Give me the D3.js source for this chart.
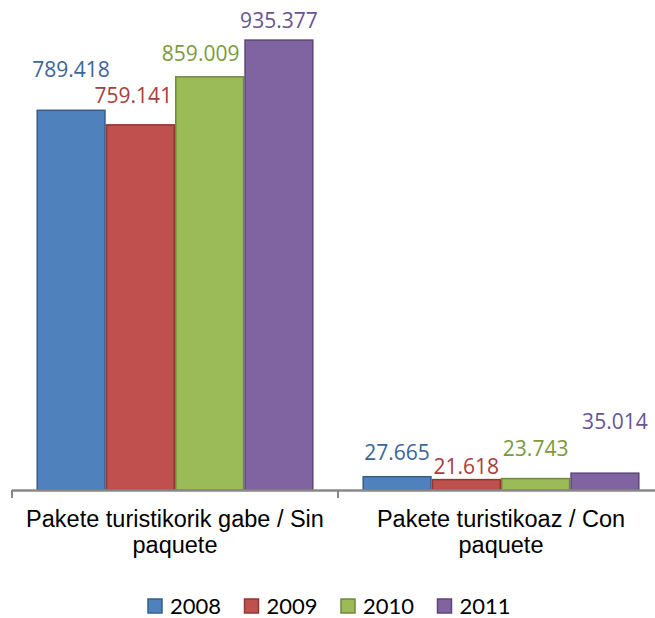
<!DOCTYPE html>
<html>
<head>
<meta charset="utf-8">
<script src="https://cdn.jsdelivr.net/npm/d3@7"></script>
<style>
  body { margin: 0; background: #fff; }
</style>
</head>
<body>
<div id="chart"></div>
<script>
// data
var categories = ["Pakete turistikorik gabe / Sin paquete", "Pakete turistikoaz / Con paquete"];
var years = ["2008", "2009", "2010", "2011"];
var values2008 = [789.418, 27.665];
var values2009 = [759.141, 21.618];
var values2010 = [859.009, 23.743];
var values2011 = [935.377, 35.014];
var labels2008 = ["789.418", "27.665"];
var labels2009 = ["759.141", "21.618"];
var labels2010 = ["859.009", "23.743"];
var labels2011 = ["935.377", "35.014"];

// look
var fills = ["#4F81BD", "#C0504D", "#9BBB59", "#8064A2"];
var strokes = ["#385D8A", "#8C3836", "#71893F", "#5C4776"];
var textCols = ["#3C6698", "#A5403D", "#7A9A3C", "#6B5390"];
// label nudges [dx, lift] per group, per year (Excel placed them by hand)
var labelNudge = [
  [[0, 33], [-7, 22], [-9, 16], [0, 12]],
  [[0, 17], [0, 6], [0, 23], [10, 44]]
];

var W = 655, H = 618;
var series = [values2008, values2009, values2010, values2011];
var seriesLabels = [labels2008, labels2009, labels2010, labels2011];

var svg = d3.select("#chart").append("svg")
    .attr("width", W).attr("height", H);

var x0 = d3.scaleBand().domain(categories).range([12, 664])
    .paddingInner(0.15).paddingOuter(0.075);
var x1 = d3.scaleBand().domain(years).range([0, x0.bandwidth()]);
var y = d3.scaleLinear().domain([0, 1000]).range([490, 9]);

// rows: one per category, one cell per year
var rows = categories.map(function(c, i) {
  return years.map(function(yr, j) {
    return { cat: c, ci: i, year: yr, yi: j, value: series[j][i], label: seriesLabels[j][i] };
  });
});

var groups = svg.append("g").selectAll("g").data(rows)
  .enter().append("g")
    .attr("transform", function(d, i) { return "translate(" + x0(categories[i]) + ",0)"; });

groups.selectAll("rect").data(function(d) { return d; })
  .enter().append("rect")
    .attr("x", function(d) { return x1(d.year) + 0.75; })
    .attr("y", function(d) { return y(d.value); })
    .attr("width", x1.bandwidth() - 1.5)
    .attr("height", function(d) { return y(0) - y(d.value); })
    .style("fill", function(d) { return fills[d.yi]; })
    .style("stroke", function(d) { return strokes[d.yi]; })
    .style("stroke-width", 1.5);

groups.selectAll("text").data(function(d) { return d; })
  .enter().append("text")
    .attr("x", function(d) { return x1(d.year) + x1.bandwidth() / 2 + labelNudge[d.ci][d.yi][0]; })
    .attr("y", function(d) { return y(d.value) - labelNudge[d.ci][d.yi][1]; })
    .attr("text-anchor", "middle")
    .style("font-family", "'Open Sans', sans-serif")
    .style("font-size", "21px")
    .style("fill", function(d) { return textCols[d.yi]; })
    .text(function(d) { return d.label; });

// axis line + ticks on band edges
var axisG = svg.append("g").style("stroke", "#898989");
axisG.append("line")
    .attr("x1", 12).attr("x2", W)
    .attr("y1", 490.5).attr("y2", 490.5)
    .style("stroke-width", 2.5);
var edges = [12, 12 + x0.step(), 12 + 2 * x0.step() - 1];
axisG.selectAll("line.tick").data(edges)
  .enter().append("line").classed("tick", true)
    .attr("x1", function(d) { return d; }).attr("x2", function(d) { return d; })
    .attr("y1", 490).attr("y2", 498)
    .style("stroke-width", 2);

// category labels, wrapped
var catText = svg.append("g").selectAll("text").data(categories)
  .enter().append("text")
    .attr("x", function(d) { return x0(d) + x0.bandwidth() / 2; })
    .attr("y", 527)
    .attr("text-anchor", "middle")
    .style("font-family", "'Liberation Sans', Arial, sans-serif")
    .style("font-size", "23.5px")
    .style("fill", "#000");
catText.each(function(d) {
  var el = d3.select(this);
  var words = d.split(" ");
  var line1 = words.slice(0, -1).join(" ");
  var line2 = words[words.length - 1];
  el.append("tspan").attr("x", el.attr("x")).attr("dy", 0).text(line1);
  el.append("tspan").attr("x", el.attr("x")).attr("dy", 26).text(line2);
});

// legend
var legend = svg.append("g").selectAll("g").data(years)
  .enter().append("g")
    .attr("transform", function(d, i) { return "translate(" + (148 + i * 96.5) + ",599)"; });
legend.append("rect")
    .attr("x", 0).attr("y", 0).attr("width", 14).attr("height", 14)
    .style("fill", function(d, i) { return fills[i]; })
    .style("stroke", function(d, i) { return strokes[i]; })
    .style("stroke-width", 1.5);
legend.append("text")
    .attr("x", 22).attr("y", 14.5)
    .style("font-family", "Lato, sans-serif")
    .style("font-size", "22px")
    .style("fill", "#000")
    .text(function(d) { return d; });
</script>
</body>
</html>
